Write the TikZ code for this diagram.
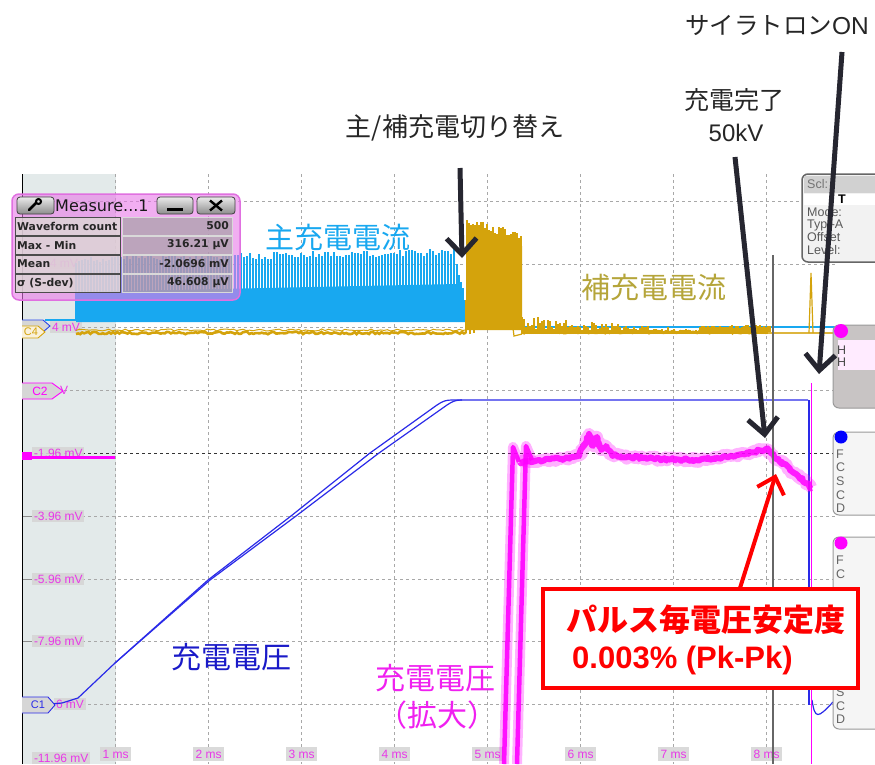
\documentclass[tikz,border=0pt]{standalone}
\usepackage{fontspec}
\setmainfont{Liberation Sans}
\newfontfamily\cjk{Noto Sans CJK JP}
\newfontfamily\dvs{DejaVu Sans}
\usetikzlibrary{arrows.meta,decorations.pathmorphing}
\definecolor{wblue}{HTML}{18A8F0}
\definecolor{wgold}{HTML}{D4A30C}
\definecolor{wgoldt}{HTML}{B5A53A}
\definecolor{wvolt}{HTML}{2A2AE8}
\definecolor{wvoltt}{HTML}{1A1AC8}
\definecolor{wmag}{HTML}{FF00FF}
\definecolor{wmagt}{HTML}{F020F0}
\definecolor{shadebg}{HTML}{E3EAEA}
\definecolor{gridc}{HTML}{A8A8A8}
\definecolor{labbg}{HTML}{D6D6D6}
\definecolor{labtxt}{HTML}{E838E8}
\definecolor{annc}{HTML}{262630}
\definecolor{pinkbg}{HTML}{E878E8}
\definecolor{pinkbd}{HTML}{E070E0}
\definecolor{cellL}{HTML}{DCD8D4}
\definecolor{cellR}{HTML}{A0A0A0}
\definecolor{pnl}{HTML}{C8C4C4}
\definecolor{redc}{HTML}{FF0000}
\newcommand{\fsz}[1]{\fontsize{#1}{#1}\selectfont}
\tikzset{
 gridln/.style={draw=gridc, line width=0.9pt, dash pattern=on 3pt off 3pt},
 lab/.style={fill=labbg, fill opacity=0.9, text opacity=1, text=labtxt, font=\fsz{12}, inner sep=1.8pt, anchor=west},
 tlab/.style={fill=labbg, fill opacity=0.9, text opacity=1, text=labtxt, font=\fsz{12}, inner sep=2.4pt},
 annarrow/.style={draw=annc, line width=5pt, -{Straight Barb[length=16pt,width=30pt]}},
 redarrow/.style={draw=redc, line width=4pt, -{Straight Barb[length=15pt,width=28pt]}},
 celltxt/.style={font=\dvs\bfseries\fsz{10.8}, text=black!85, inner sep=0pt},
 btn/.style={rounded corners=3pt, top color=white!92!black, bottom color=black!45, draw=black!75, line width=0.8pt},
 pnltxt/.style={font=\fsz{12.5}, text=black!65, inner sep=0pt, anchor=west},
 anntxt/.style={font=\cjk\fsz{26}, text=black!85, inner sep=0pt},
}
\begin{document}
\begin{tikzpicture}[x=1pt,y=-1pt]
\useasboundingbox (0,0) rectangle (875,764);
\clip (0,0) rectangle (875,764);
\fill[white] (0,0) rectangle (875,764);
% shaded region
\fill[shadebg] (22,174) rectangle (115.7,764);
% grid
\foreach \k in {0,...,7} \draw[gridln] ({115.7+93*\k},174) -- ({115.7+93*\k},764);
\foreach \yy in {201,264,327,390,516,579,641,704} \draw[gridln] (22,\yy) -- (835,\yy);
\draw[draw=black!80, line width=0.9pt, dash pattern=on 3pt off 3pt] (22,453) -- (835,453);
\foreach \yy in {516,579,641} \draw[black!45, line width=1pt] (22,\yy) -- (32,\yy);
\draw[black, line width=1pt] (22,174) -- (22,764);

% y labels
\node[lab] (l1) at (32,453) {-1.96 mV};
\node[lab] (l2) at (32,516) {-3.96 mV};
\node[lab] (l3) at (32,579) {-5.96 mV};
\node[lab] (l4) at (32,641) {-7.96 mV};
\node[lab] (l5) at (54,704) {6 mV};
\node[lab] (l6) at (32,758) {-11.96 mV};
\node[lab] (l7) at (50,327) {4 mV};
\node[lab] (l8) at (48,263) {4 mV};
\node[lab, fill opacity=0] (l9) at (58,390) {V};
% time labels
\foreach \k in {1,...,8} \node[tlab] (t\k) at ({115.7+93*(\k-1)},754) {\k{} ms};

% ---- blue current (C3)
\draw[wblue, line width=1.2pt] (45,320) -- (76,320) -- (76,300);
\fill[wblue] (76,322) -- (76,292) -- (456,284) -- (462,300) -- (468,322) -- cycle;
\pgfmathsetseed{11}
\foreach \xx in {76,79,...,456} \draw[wblue, line width=2.1pt] (\xx,318) -- (\xx,{256-(\xx-76)*0.02+7*rnd});
\foreach \xx in {457,459,...,469} \draw[wblue, line width=1.3pt] (\xx,322) -- (\xx,{258+(\xx-457)*4.5+10*rnd});
\draw[wblue, line width=1.2pt] (468,327) -- (835,327);

% ---- gold current (C4)
\draw[wgold, line width=2.6pt] plot[domain=76:466, samples=190] (\x,{333+1.2*rand});
\draw[wgold, line width=1pt] plot[domain=76:466, samples=120] (\x,{331-2*rnd});
\fill[wgold] (467,330) -- (467,240) -- (522,246) -- (522,330) -- cycle;
\foreach \xx in {467,469,...,522} \draw[wgold, line width=1.5pt] (\xx,318) -- (\xx,{219+(\xx-467)*0.2+9*rnd});
\draw[wgold, line width=1.2pt] (466,333) -- (466,300) (470,334) -- (470,290) (474,333) -- (474,300);
\draw[wgold, line width=1.2pt] (512,320) -- (514,336) -- (522,334);
\foreach \xx in {522,524,...,700} \draw[wgold, line width=1.5pt] (\xx,334) -- (\xx,{333-(4+14*rnd)*(1-(\xx-522)/220)});
\draw[wgold, line width=2.5pt] plot[domain=522:770, samples=120] (\x,{332+1.2*rand});
\foreach \xx in {700,702,...,770} \draw[wgold, line width=1.2pt] (\xx,334) -- (\xx,{328-3*rnd});
\fill[wgold] (760,327) rectangle (768,334);
\draw[wgold!80, line width=1.5pt] (768,333) -- (835,333);
\draw[wgold, line width=1.2pt] (809,333) -- (811,273) -- (813,333);

% ---- dark blue charging voltage (C1)
\draw[wvolt, line width=1.2pt, line join=round] (50,704) -- (62,703) -- (78,698) -- (115,663) -- (208,580) -- (291,516) -- (370,453) -- (437,405) .. controls (443,401) and (446,400) .. (452,400) -- (808,400);
\draw[wvolt, line width=1.2pt, line join=round] (115,663) -- (210,580) -- (296,516) -- (379,453) -- (447,405) .. controls (453,401) and (456,400) .. (462,400);
\draw[wvolt, line width=1.4pt] (809,400) -- (809,705);
\draw[wvolt, line width=1.2pt] (812,700) .. controls (815,720) and (818,718) .. (833,702);

% ---- magenta zoomed voltage (C2)
\draw[wmag, line width=3pt] (22,457) -- (115,457);
\fill[wmag] (22,452) rectangle (32,460);
\draw[wmag, opacity=0.3, line width=10pt, line join=round] (504,764) -- (513,447) -- (519,462) (517,764) -- (526,446) -- (532,460);
\draw[wmag, opacity=0.9, line width=4.5pt, line join=round] (504,764) -- (513,447) -- (519,462) (517,764) -- (526,446) -- (532,460);
\draw[wmag, opacity=0.3, line width=12pt, line join=round, decorate, decoration={random steps, segment length=2pt, amplitude=2pt}]
  (520,462) -- (540,460) -- (560,459) -- (578,456) -- (585,445) -- (589,434) -- (593,446) -- (597,437) -- (601,450) -- (606,446) -- (612,455) -- (630,457) -- (660,459) -- (700,460) -- (730,456) -- (755,452) -- (766,449) -- (790,470) -- (812,488);
\draw[wmag, opacity=0.85, line width=6pt, line join=round, decorate, decoration={random steps, segment length=2pt, amplitude=1.5pt}]
  (520,462) -- (540,460) -- (560,459) -- (578,456) -- (585,445) -- (589,434) -- (593,446) -- (597,437) -- (601,450) -- (606,446) -- (612,455) -- (630,457) -- (660,459) -- (700,460) -- (730,456) -- (755,452) -- (766,449) -- (790,470) -- (812,488);
\draw[wmag, line width=1.6pt] (811.5,383) -- (811.5,764);

% cursor
\draw[black!60, line width=1.6pt] (773,255) -- (773,764);

% channel markers
\draw[wvolt!80!wblue, fill=labbg, line width=0.9pt] (22,320) -- (43,320) -- (50,326) -- (43,332) -- (22,332);
\draw[wgold, fill=white!85!wgold, line width=0.9pt] (22,326) -- (38,326) -- (45,332) -- (38,338) -- (22,338);
\node[font=\fsz{11}, text=wgold, inner sep=0pt] (c4) at (31,332) {C4};
\draw[wmag, fill=labbg, line width=0.9pt] (22,383) -- (52,383) -- (63,391) -- (52,399) -- (22,399);
\node[font=\fsz{12}, text=wmag, inner sep=0pt] (c2) at (40,391) {C2};
\draw[wvolt, fill=labbg, line width=0.9pt] (22,697) -- (48,697) -- (55,705) -- (48,713) -- (22,713);
\node[font=\fsz{11}, text=wvolt, inner sep=0pt] (c1) at (38,705) {C1};

% ---- measure box
\draw[rounded corners=7pt, fill=pinkbg, fill opacity=0.6, draw=pinkbd, line width=1.5pt] (12,194) rectangle (240,300);
\draw[btn] (17,197) rectangle (54,214);
\draw[btn] (157,197) rectangle (193,214);
\draw[btn] (197,197) rectangle (235,214);
\draw[black, line width=2.6pt, line cap=round] (29,210) -- (36,203);
\draw[black, line width=2pt] (38.5,201.5) circle (2.5pt);
\draw[black, line width=2.2pt] (167,209.5) -- (183,209.5);
\draw[black, line width=2.4pt] (210,200.5) -- (222,210.5) (222,200.5) -- (210,210.5);
\node[font=\dvs\fsz{16}, text=black!90, inner sep=0pt, anchor=west] (mt) at (55,206) {Measure...1};
\foreach \ya/\yb in {217/235,236/254,255/273,274/292}{
  \fill[cellL, opacity=0.8] (15,\ya) rectangle (120,\yb);
  \draw[black!70, line width=0.9pt] (15,\ya) rectangle (120,\yb);
  \fill[cellR, opacity=0.65] (122,\ya) rectangle (232,\yb);
  \draw[white!85!black, line width=0.6pt] (122,\ya) rectangle (232,\yb);
}
\node[celltxt, anchor=west] (m1) at (17,226) {Waveform count};
\node[celltxt, anchor=west] (m2) at (17,245) {Max - Min};
\node[celltxt, anchor=west] (m3) at (17,264) {Mean};
\node[celltxt, anchor=west] (m4) at (17,283) {σ (S-dev)};
\node[celltxt, anchor=east] (v1) at (229,226) {500};
\node[celltxt, anchor=east] (v2) at (229,245) {316.21 µV};
\node[celltxt, anchor=east] (v3) at (229,264) {-2.0696 mV};
\node[celltxt, anchor=east] (v4) at (229,283) {46.608 µV};

% ---- right panels
\draw[rounded corners=6pt, fill=white!95!black, draw=black!60, line width=1.5pt] (802,174) rectangle (895,262);
\fill[black!18] (803.5,176) rectangle (895,193);
\fill[white] (803.5,194) rectangle (895,205);
\node[pnltxt, text=black!55] (p0) at (807,184.5) {Scl:};
\node[pnltxt, font=\bfseries\fsz{12.5}, text=black] (p1) at (838,199.5) {T};
\node[pnltxt] (p2) at (807,212.5) {Mode:};
\node[pnltxt] (p3) at (807,225) {Typ -A};
\node[pnltxt] (p4) at (807,237.5) {Offset};
\node[pnltxt] (p5) at (807,250) {Level:};

\draw[rounded corners=6pt, fill=pnl, draw=black!40, line width=1pt] (833,325) rectangle (895,408);
\fill[white!92!wmag] (838,340) rectangle (895,370);
\fill[wmag] (841,331) circle (7pt);
\node[pnltxt, text=black!70] (h1) at (837,350) {H};
\node[pnltxt, text=black!70] (h2) at (837,362) {H};

\draw[rounded corners=6pt, fill=white!96!black, draw=black!40, line width=1pt] (833,432) rectangle (895,515);
\fill[blue] (841,437) circle (6.5pt);
\foreach \t/\yy in {F/454,C/467,S/481,C/495,D/508} \node[pnltxt, text=black!60] at (836,\yy) {\t};

\draw[rounded corners=6pt, fill=white!96!black, draw=black!40, line width=1pt] (833,537) rectangle (895,729);
\fill[wmag] (841,543) circle (6.5pt);
\foreach \t/\yy in {F/560,C/574,S/692,C/706,D/719} \node[pnltxt, text=black!60] at (836,\yy) {\t};

% ---- annotations
\node[font=\cjk\fsz{24.5}, text=black!85, inner sep=0pt] (thy) at (777,25) {サイラトロン\fontspec{Liberation Sans}ON};
\node[anntxt, font=\cjk\fsz{25}] (cc1) at (734,100) {充電完了};
\node[font=\fsz{24}, text=black!85, inner sep=0pt] (cc2) at (736,133) {50kV};
\node[anntxt] (sw) at (455,128) {主/補充電切り替え};
\node[font=\cjk\fsz{29}, text=wblue, inner sep=0pt] (lbl1) at (338,237) {主充電電流};
\node[font=\cjk\fsz{29}, text=wgoldt, inner sep=0pt] (lbl2) at (654,287) {補充電電流};
\node[font=\cjk\fsz{30}, text=wvoltt, inner sep=0pt] (lbl3) at (231,657) {充電電圧};
\node[font=\cjk\fsz{30}, text=wmagt, inner sep=0pt] (lbl4) at (435,678) {充電電圧};
\node[font=\cjk\fsz{30}, text=wmagt, inner sep=0pt] (lbl5) at (437,715) {（拡大）};

\coordinate (a1s) at (460,168);
\coordinate (a1e) at (462,258);
\coordinate (a2s) at (735,157);
\coordinate (a2e) at (765,438);
\coordinate (a3s) at (842,52);
\coordinate (a3e) at (819,374);
\draw[annarrow] (a1s) -- (a1e);
\draw[annarrow] (a2s) -- (a2e);
\draw[annarrow] (a3s) -- (a3e);

% red box
\draw[redc, fill=white, line width=4.5pt] (543,589) rectangle (858,688);
\node[font=\cjk\bfseries\fsz{31}, text=redc, inner sep=0pt] (r1) at (706,620) {パルス毎電圧安定度};
\node[font=\bfseries\fsz{31}, text=redc, inner sep=0pt, anchor=west] (r2) at (572,660) {0.003\% (Pk-Pk)};
\coordinate (a4s) at (740,588);
\coordinate (a4e) at (776,474);
\draw[redarrow] (a4s) -- (a4e);
\end{tikzpicture}
\end{document}
